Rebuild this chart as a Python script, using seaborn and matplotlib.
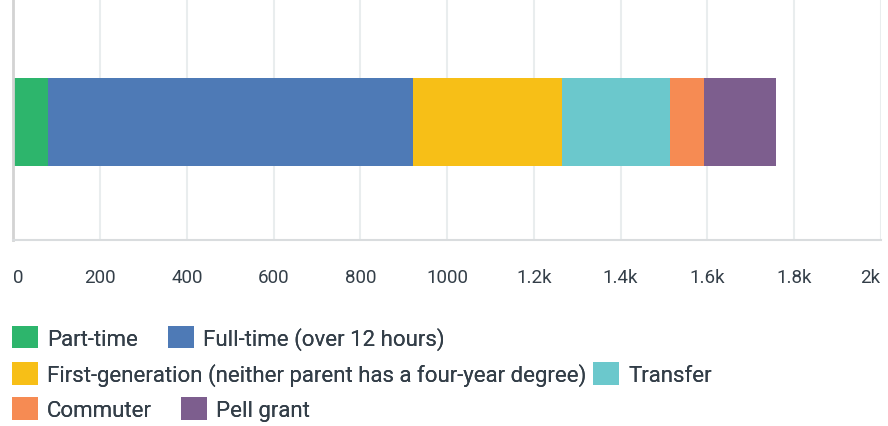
import pandas as pd
import matplotlib
matplotlib.use("Agg")
import matplotlib.pyplot as plt
import matplotlib.ticker as mticker
import seaborn as sns

# Data
categories = ["Part-time", "Full-time (over 12 hours)",
              "First-generation (neither parent has a four-year degree)",
              "Transfer", "Commuter", "Pell grant"]
counts = [80, 841, 344, 248, 80, 166]
colors = ["#2DB56C", "#4E7AB6", "#F7BF17", "#6BC8CC", "#F68B53", "#7D5E8E"]
x_ticks = [0, 200, 400, 600, 800, 1000, 1200, 1400, 1600, 1800, 2000]

df = pd.DataFrame({"category": categories, "count": counts, "color": colors})
df["cum"] = df["count"].cumsum()
df["row"] = ""

sns.set_theme(style="white")
plt.rcParams["font.family"] = ["Roboto", "DejaVu Sans"]
text_color = "#333E48"

fig = plt.figure(figsize=(8.88, 4.27), dpi=100)
ax = fig.add_axes([0.0152, 0.4356, 0.9766, 0.5644])

# stacked bar: draw cumulative totals from the largest down
for _, r in df.iloc[::-1].iterrows():
    sns.barplot(x=[r["cum"]], y=[r["row"]], orient="h", color=r["color"],
                width=0.365, saturation=1, label=r["category"], ax=ax,
                linewidth=0)
handles, lbls = ax.get_legend_handles_labels()
if ax.get_legend() is not None:
    ax.get_legend().remove()

ax.set_xlim(0, 2000)
ax.set_ylim(0.49, -0.51)
ax.set_xlabel("")
ax.set_ylabel("")
ax.set_yticks([])
ax.set_xticks(x_ticks)
ax.xaxis.set_major_formatter(mticker.FuncFormatter(
    lambda v, p: f"{v/1000:g}k" if v > 1000 else f"{int(v)}"))
ax.tick_params(axis="x", length=0, pad=20, labelsize=13.5, labelcolor=text_color)
labels = ax.get_xticklabels()
labels[0].set_ha("left")
labels[-1].set_ha("right")
ax.grid(axis="x", color="#E9EDEE", linewidth=1.5)
ax.set_axisbelow(True)
for side in ["top", "right"]:
    ax.spines[side].set_visible(False)
ax.spines["left"].set_color("#D3D3D3")
ax.spines["left"].set_linewidth(2)
ax.spines["bottom"].set_color("#D9DCDE")
ax.spines["bottom"].set_linewidth(1.5)

# legend, three rows that flow like the original
hmap = dict(zip(lbls, handles))
rows = [(categories[0:2], 0.207, 1.37),
        (categories[2:4], 0.122, 0.32),
        (categories[4:6], 0.040, 1.3)]
for names, ypos, spacing in rows:
    leg = fig.legend([hmap[n] for n in names], names, loc="center left",
                     bbox_to_anchor=(12 / 888, ypos), ncol=2, frameon=False,
                     fontsize=16, handlelength=1.17, handleheight=1.2,
                     handletextpad=0.4, columnspacing=spacing,
                     borderaxespad=0, borderpad=0)
    for t in leg.get_texts():
        t.set_color(text_color)
    fig.add_artist(leg)

fig.savefig("out.png", dpi=100)
